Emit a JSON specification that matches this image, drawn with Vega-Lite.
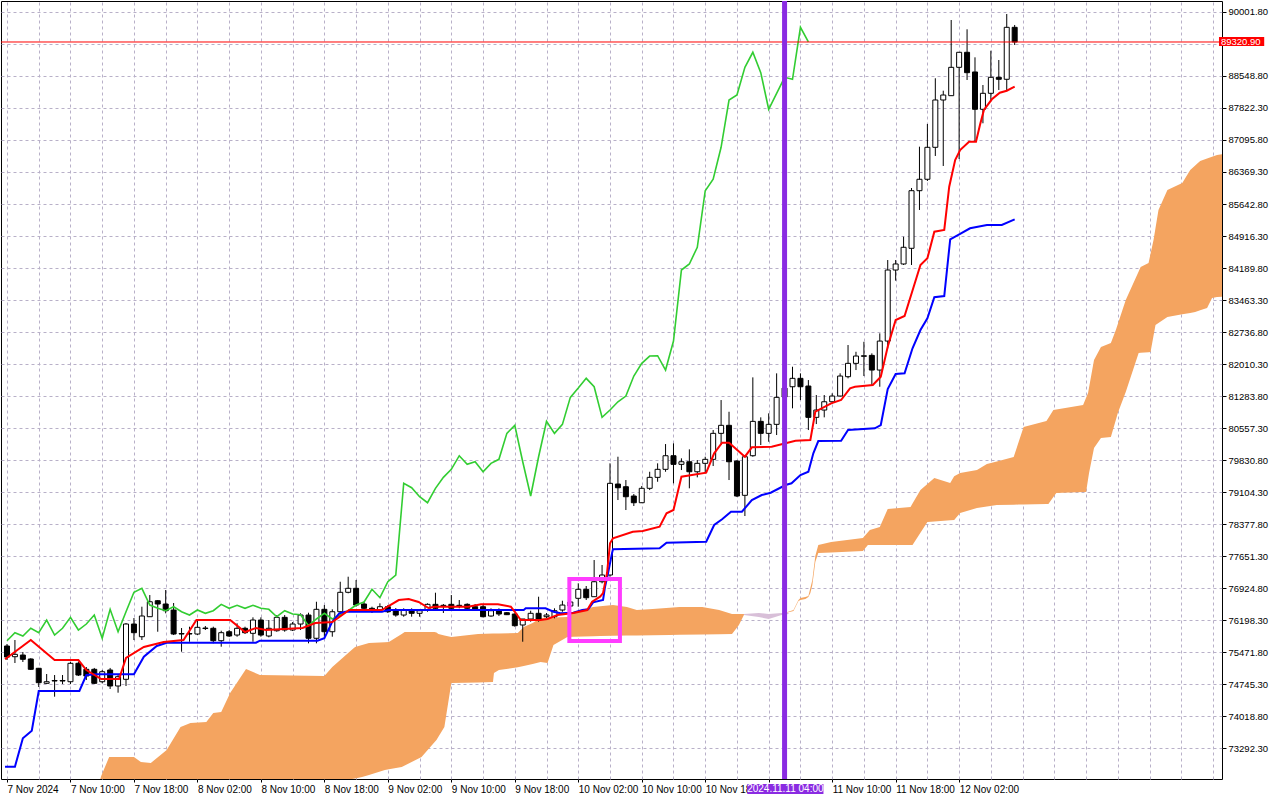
{
  "$schema": "https://vega.github.io/schema/vega-lite/v6.json",
  "width": 1221,
  "height": 778,
  "autosize": {"type": "none"},
  "padding": {"left": 1, "top": 1, "right": 58, "bottom": 21},
  "background": "white",
  "config": {
    "view": {"stroke": "black", "strokeWidth": 1},
    "axis": {"labelFont": "Liberation Sans", "labelColor": "black", "tickColor": "black", "domain": false}
  },
  "datasets": {
    "candles": [
      {"bar": 0, "open": 75608, "high": 75653, "low": 75290, "close": 75358},
      {"bar": 1, "open": 75365, "high": 75744, "low": 75222, "close": 75419},
      {"bar": 2, "open": 75403, "high": 75472, "low": 75245, "close": 75306},
      {"bar": 3, "open": 75313, "high": 75330, "low": 75063, "close": 75079},
      {"bar": 4, "open": 75102, "high": 75110, "low": 74677, "close": 74775},
      {"bar": 5, "open": 74761, "high": 74972, "low": 74745, "close": 74797},
      {"bar": 6, "open": 74813, "high": 74949, "low": 74457, "close": 74825},
      {"bar": 7, "open": 74813, "high": 74949, "low": 74745, "close": 74825},
      {"bar": 8, "open": 74797, "high": 75251, "low": 74745, "close": 75215},
      {"bar": 9, "open": 75215, "high": 75251, "low": 74927, "close": 74949},
      {"bar": 10, "open": 75079, "high": 75131, "low": 74836, "close": 74927},
      {"bar": 11, "open": 75079, "high": 75110, "low": 74745, "close": 74761},
      {"bar": 12, "open": 74797, "high": 75063, "low": 74761, "close": 75024},
      {"bar": 13, "open": 75063, "high": 75110, "low": 74632, "close": 74700},
      {"bar": 14, "open": 74700, "high": 74949, "low": 74548, "close": 74911},
      {"bar": 15, "open": 74852, "high": 76130, "low": 74700, "close": 76107},
      {"bar": 16, "open": 76107, "high": 76243, "low": 75744, "close": 75910},
      {"bar": 17, "open": 75819, "high": 76500, "low": 75744, "close": 76289},
      {"bar": 18, "open": 76273, "high": 76765, "low": 76273, "close": 76613},
      {"bar": 19, "open": 76636, "high": 76652, "low": 75932, "close": 76561},
      {"bar": 20, "open": 76561, "high": 76879, "low": 76350, "close": 76409},
      {"bar": 21, "open": 76425, "high": 76584, "low": 75857, "close": 75880},
      {"bar": 22, "open": 75880, "high": 76016, "low": 75478, "close": 75891},
      {"bar": 23, "open": 75880, "high": 76046, "low": 75705, "close": 75891},
      {"bar": 24, "open": 75880, "high": 76198, "low": 75857, "close": 76032},
      {"bar": 25, "open": 76005, "high": 76062, "low": 75971, "close": 76016},
      {"bar": 26, "open": 76010, "high": 76046, "low": 75669, "close": 75728},
      {"bar": 27, "open": 75728, "high": 75955, "low": 75592, "close": 75910},
      {"bar": 28, "open": 75932, "high": 75971, "low": 75812, "close": 75835},
      {"bar": 29, "open": 75857, "high": 76123, "low": 75819, "close": 76010},
      {"bar": 30, "open": 76010, "high": 76046, "low": 75880, "close": 75910},
      {"bar": 31, "open": 75896, "high": 76259, "low": 75705, "close": 76198},
      {"bar": 32, "open": 76198, "high": 76259, "low": 75819, "close": 75857},
      {"bar": 33, "open": 75835, "high": 76198, "low": 75805, "close": 76010},
      {"bar": 34, "open": 75955, "high": 76311, "low": 75932, "close": 76259},
      {"bar": 35, "open": 76259, "high": 76311, "low": 75932, "close": 75971},
      {"bar": 36, "open": 75971, "high": 76153, "low": 75948, "close": 76107},
      {"bar": 37, "open": 76107, "high": 76350, "low": 75971, "close": 76311},
      {"bar": 38, "open": 76311, "high": 76364, "low": 75669, "close": 75783},
      {"bar": 39, "open": 75783, "high": 76613, "low": 75669, "close": 76441},
      {"bar": 40, "open": 76441, "high": 76538, "low": 75819, "close": 75932},
      {"bar": 41, "open": 75932, "high": 76441, "low": 75819, "close": 76386},
      {"bar": 42, "open": 76386, "high": 77067, "low": 76311, "close": 76827},
      {"bar": 43, "open": 76827, "high": 77181, "low": 76804, "close": 76918},
      {"bar": 44, "open": 76918, "high": 77106, "low": 76500, "close": 76538},
      {"bar": 45, "open": 76561, "high": 76613, "low": 76425, "close": 76464},
      {"bar": 46, "open": 76464, "high": 76500, "low": 76357, "close": 76409},
      {"bar": 47, "open": 76425, "high": 76577, "low": 76386, "close": 76500},
      {"bar": 48, "open": 76500, "high": 76538, "low": 76357, "close": 76386},
      {"bar": 49, "open": 76425, "high": 76470, "low": 76273, "close": 76311},
      {"bar": 50, "open": 76311, "high": 76464, "low": 76273, "close": 76425},
      {"bar": 51, "open": 76425, "high": 76464, "low": 76273, "close": 76350},
      {"bar": 52, "open": 76350, "high": 76425, "low": 76273, "close": 76409},
      {"bar": 53, "open": 76425, "high": 76577, "low": 76386, "close": 76554},
      {"bar": 54, "open": 76554, "high": 76818, "low": 76425, "close": 76464},
      {"bar": 55, "open": 76523, "high": 76561, "low": 76357, "close": 76532},
      {"bar": 56, "open": 76554, "high": 76765, "low": 76425, "close": 76464},
      {"bar": 57, "open": 76523, "high": 76652, "low": 76464, "close": 76532},
      {"bar": 58, "open": 76554, "high": 76577, "low": 76425, "close": 76464},
      {"bar": 59, "open": 76500, "high": 76561, "low": 76409, "close": 76441},
      {"bar": 60, "open": 76500, "high": 76538, "low": 76259, "close": 76273},
      {"bar": 61, "open": 76289, "high": 76464, "low": 76273, "close": 76409},
      {"bar": 62, "open": 76409, "high": 76464, "low": 76289, "close": 76334},
      {"bar": 63, "open": 76364, "high": 76380, "low": 76311, "close": 76319},
      {"bar": 64, "open": 76334, "high": 76350, "low": 76046, "close": 76069},
      {"bar": 65, "open": 76085, "high": 76221, "low": 75705, "close": 76221},
      {"bar": 66, "open": 76221, "high": 76409, "low": 76160, "close": 76350},
      {"bar": 67, "open": 76350, "high": 76727, "low": 76160, "close": 76221},
      {"bar": 68, "open": 76273, "high": 76357, "low": 76243, "close": 76311},
      {"bar": 69, "open": 76273, "high": 76464, "low": 76236, "close": 76409},
      {"bar": 70, "open": 76425, "high": 76636, "low": 76386, "close": 76538},
      {"bar": 71, "open": 76516, "high": 76697, "low": 76448, "close": 76607},
      {"bar": 72, "open": 76691, "high": 77031, "low": 76500, "close": 76895},
      {"bar": 73, "open": 76895, "high": 76970, "low": 76652, "close": 76704},
      {"bar": 74, "open": 76727, "high": 77560, "low": 76727, "close": 77067},
      {"bar": 75, "open": 77067, "high": 77447, "low": 77031, "close": 77220},
      {"bar": 76, "open": 77220, "high": 79755, "low": 77181, "close": 79301},
      {"bar": 77, "open": 79285, "high": 79905, "low": 78922, "close": 79201},
      {"bar": 78, "open": 79224, "high": 79376, "low": 78695, "close": 78997},
      {"bar": 79, "open": 79013, "high": 79058, "low": 78786, "close": 78861},
      {"bar": 80, "open": 78861, "high": 79240, "low": 78854, "close": 79188},
      {"bar": 81, "open": 79188, "high": 79564, "low": 79149, "close": 79437},
      {"bar": 82, "open": 79437, "high": 79755, "low": 79337, "close": 79619},
      {"bar": 83, "open": 79619, "high": 80193, "low": 79564, "close": 79928},
      {"bar": 84, "open": 79928, "high": 80209, "low": 79301, "close": 79732},
      {"bar": 85, "open": 79732, "high": 79869, "low": 79603, "close": 79791},
      {"bar": 86, "open": 79791, "high": 80073, "low": 79188, "close": 79564},
      {"bar": 87, "open": 79564, "high": 79830, "low": 79437, "close": 79755},
      {"bar": 88, "open": 79755, "high": 79905, "low": 79528, "close": 79846},
      {"bar": 89, "open": 79846, "high": 80511, "low": 79694, "close": 80436},
      {"bar": 90, "open": 80436, "high": 81192, "low": 80171, "close": 80618},
      {"bar": 91, "open": 80618, "high": 80926, "low": 79376, "close": 79791},
      {"bar": 92, "open": 79807, "high": 79830, "low": 78990, "close": 79013},
      {"bar": 93, "open": 79029, "high": 79943, "low": 78559, "close": 79905},
      {"bar": 94, "open": 79928, "high": 81707, "low": 79905, "close": 80708},
      {"bar": 95, "open": 80708, "high": 80799, "low": 80171, "close": 80436},
      {"bar": 96, "open": 80436, "high": 80890, "low": 80245, "close": 80640},
      {"bar": 97, "open": 80640, "high": 81798, "low": 80398, "close": 81253},
      {"bar": 98, "open": 81260, "high": 81873, "low": 81147, "close": 81464},
      {"bar": 99, "open": 81494, "high": 81948, "low": 81004, "close": 81685},
      {"bar": 100, "open": 81685, "high": 81798, "low": 81192, "close": 81494},
      {"bar": 101, "open": 81510, "high": 81646, "low": 80511, "close": 80799},
      {"bar": 102, "open": 80799, "high": 81306, "low": 80647, "close": 80965},
      {"bar": 103, "open": 80965, "high": 81306, "low": 80799, "close": 81153},
      {"bar": 104, "open": 81153, "high": 81344, "low": 81116, "close": 81283},
      {"bar": 105, "open": 81283, "high": 81798, "low": 81268, "close": 81737},
      {"bar": 106, "open": 81722, "high": 82441, "low": 81685, "close": 82025},
      {"bar": 107, "open": 82025, "high": 82288, "low": 81873, "close": 82191},
      {"bar": 108, "open": 82184, "high": 82515, "low": 81737, "close": 82198},
      {"bar": 109, "open": 82206, "high": 82252, "low": 81532, "close": 81873},
      {"bar": 110, "open": 81873, "high": 82706, "low": 81494, "close": 82531},
      {"bar": 111, "open": 82531, "high": 84371, "low": 82366, "close": 84144},
      {"bar": 112, "open": 84144, "high": 84371, "low": 83902, "close": 84281},
      {"bar": 113, "open": 84281, "high": 84900, "low": 84258, "close": 84660},
      {"bar": 114, "open": 84637, "high": 86006, "low": 84258, "close": 85945},
      {"bar": 115, "open": 85945, "high": 86944, "low": 85507, "close": 86204},
      {"bar": 116, "open": 86204, "high": 87459, "low": 86165, "close": 86930},
      {"bar": 117, "open": 86930, "high": 88497, "low": 86733, "close": 88004},
      {"bar": 118, "open": 88004, "high": 88215, "low": 86506, "close": 88117},
      {"bar": 119, "open": 88102, "high": 89820, "low": 88102, "close": 88746},
      {"bar": 120, "open": 88746, "high": 89094, "low": 86664, "close": 89087},
      {"bar": 121, "open": 89087, "high": 89609, "low": 88458, "close": 88624},
      {"bar": 122, "open": 88640, "high": 88973, "low": 87057, "close": 87793},
      {"bar": 123, "open": 87793, "high": 88344, "low": 87475, "close": 88156},
      {"bar": 124, "open": 88156, "high": 89123, "low": 88004, "close": 88519},
      {"bar": 125, "open": 88519, "high": 88912, "low": 88231, "close": 88474},
      {"bar": 126, "open": 88474, "high": 89956, "low": 88231, "close": 89654},
      {"bar": 127, "open": 89654, "high": 89707, "low": 89253, "close": 89321}
    ],
    "tenkan": [
      {"bar": -0.25, "value": 75306}, {"bar": 3, "value": 75744}, {"bar": 6, "value": 75290}, {"bar": 9, "value": 75290},
      {"bar": 10, "value": 75063}, {"bar": 11.875, "value": 74859}, {"bar": 14.125, "value": 74859}, {"bar": 15, "value": 75336},
      {"bar": 17.25, "value": 75585}, {"bar": 19.75, "value": 75699}, {"bar": 22.25, "value": 75744}, {"bar": 23.875, "value": 76198},
      {"bar": 28.125, "value": 76198}, {"bar": 30, "value": 75926}, {"bar": 31.375, "value": 76017}, {"bar": 32.625, "value": 75971},
      {"bar": 37.25, "value": 76017}, {"bar": 38.875, "value": 76130}, {"bar": 41, "value": 76153}, {"bar": 43.125, "value": 76425},
      {"bar": 47.25, "value": 76425}, {"bar": 49.375, "value": 76652}, {"bar": 50.625, "value": 76675}, {"bar": 51.875, "value": 76607},
      {"bar": 53.125, "value": 76471}, {"bar": 53.875, "value": 76500}, {"bar": 58.125, "value": 76500}, {"bar": 59.75, "value": 76555},
      {"bar": 61.875, "value": 76555}, {"bar": 63.5, "value": 76500}, {"bar": 64.125, "value": 76357}, {"bar": 64.75, "value": 76198},
      {"bar": 67.25, "value": 76198}, {"bar": 68.125, "value": 76221}, {"bar": 69.375, "value": 76312}, {"bar": 71.375, "value": 76357},
      {"bar": 73.125, "value": 76425}, {"bar": 73.75, "value": 76614}, {"bar": 74.75, "value": 76727}, {"bar": 75.125, "value": 76811},
      {"bar": 75.625, "value": 77265}, {"bar": 76, "value": 77940}, {"bar": 76.375, "value": 78053}, {"bar": 78.875, "value": 78203},
      {"bar": 80.125, "value": 78219}, {"bar": 82.25, "value": 78317}, {"bar": 83.125, "value": 78621}, {"bar": 84, "value": 78696},
      {"bar": 85, "value": 79452}, {"bar": 88.125, "value": 79543}, {"bar": 89.125, "value": 79983}, {"bar": 90.125, "value": 80224},
      {"bar": 91, "value": 80224}, {"bar": 93, "value": 79906}, {"bar": 93.875, "value": 80119}, {"bar": 96.375, "value": 80133},
      {"bar": 98.125, "value": 80210}, {"bar": 99.375, "value": 80269}, {"bar": 101.25, "value": 80285}, {"bar": 101.875, "value": 80927},
      {"bar": 103.875, "value": 81118}, {"bar": 105.125, "value": 81193}, {"bar": 106.25, "value": 81459}, {"bar": 106.875, "value": 81495},
      {"bar": 109.125, "value": 81534}, {"bar": 110.125, "value": 81722}, {"bar": 111, "value": 82403}, {"bar": 112, "value": 83009},
      {"bar": 113.125, "value": 83100}, {"bar": 115.125, "value": 84258}, {"bar": 116, "value": 84410}, {"bar": 116.875, "value": 85014},
      {"bar": 118.125, "value": 85053}, {"bar": 118.75, "value": 86036}, {"bar": 119.5, "value": 86642}, {"bar": 120.125, "value": 86869},
      {"bar": 121.25, "value": 87057}, {"bar": 122.125, "value": 87057}, {"bar": 122.625, "value": 87436}, {"bar": 123.125, "value": 87777},
      {"bar": 124.125, "value": 88020}, {"bar": 125.125, "value": 88170}, {"bar": 126, "value": 88215}, {"bar": 127, "value": 88306}
    ],
    "kijun": [
      {"bar": -0.25, "value": 72868}, {"bar": 1, "value": 72868}, {"bar": 2, "value": 73513}, {"bar": 3.125, "value": 73685},
      {"bar": 4, "value": 74586}, {"bar": 9.125, "value": 74586}, {"bar": 10, "value": 74950}, {"bar": 11.25, "value": 74966},
      {"bar": 16, "value": 74966}, {"bar": 17.25, "value": 75365}, {"bar": 18.875, "value": 75608}, {"bar": 20.125, "value": 75683},
      {"bar": 31.375, "value": 75683}, {"bar": 31.875, "value": 75728}, {"bar": 39.125, "value": 75728}, {"bar": 40, "value": 75783},
      {"bar": 41, "value": 76160}, {"bar": 41.875, "value": 76351}, {"bar": 42.625, "value": 76387}, {"bar": 47.25, "value": 76387},
      {"bar": 48.125, "value": 76425}, {"bar": 65.125, "value": 76425}, {"bar": 65.375, "value": 76464}, {"bar": 67.875, "value": 76464},
      {"bar": 68.875, "value": 76387}, {"bar": 69.75, "value": 76351}, {"bar": 71.375, "value": 76364}, {"bar": 72.5, "value": 76425},
      {"bar": 73.25, "value": 76441}, {"bar": 73.875, "value": 76600}, {"bar": 75.125, "value": 76652}, {"bar": 75.375, "value": 76954},
      {"bar": 75.75, "value": 77259}, {"bar": 76.25, "value": 77713}, {"bar": 76.375, "value": 77803}, {"bar": 82.25, "value": 77826},
      {"bar": 83.125, "value": 77953}, {"bar": 88.125, "value": 77976}, {"bar": 89.125, "value": 78355}, {"bar": 90.125, "value": 78485},
      {"bar": 91.25, "value": 78657}, {"bar": 92.625, "value": 78657}, {"bar": 93.875, "value": 78923}, {"bar": 95.125, "value": 79036},
      {"bar": 96.25, "value": 79088}, {"bar": 98.125, "value": 79263}, {"bar": 98.875, "value": 79302}, {"bar": 100, "value": 79490},
      {"bar": 101, "value": 79565}, {"bar": 101.625, "value": 79983}, {"bar": 102.25, "value": 80262}, {"bar": 105.125, "value": 80269},
      {"bar": 106, "value": 80512}, {"bar": 109.375, "value": 80551}, {"bar": 110.125, "value": 80625}, {"bar": 111, "value": 81443},
      {"bar": 112, "value": 81783}, {"bar": 113.125, "value": 81799}, {"bar": 114.125, "value": 82367}, {"bar": 115.125, "value": 82782},
      {"bar": 116, "value": 83048}, {"bar": 116.875, "value": 83525}, {"bar": 118.125, "value": 83554}, {"bar": 118.875, "value": 84841},
      {"bar": 120.125, "value": 84962}, {"bar": 121.375, "value": 85091}, {"bar": 123.5, "value": 85166}, {"bar": 125.375, "value": 85166},
      {"bar": 127, "value": 85295}
    ],
    "chikou": [
      {"bar": 0, "value": 75728}, {"bar": 1, "value": 75910}, {"bar": 2, "value": 75835}, {"bar": 3, "value": 76010},
      {"bar": 4, "value": 75910}, {"bar": 5, "value": 76198}, {"bar": 6, "value": 75857}, {"bar": 7, "value": 76010},
      {"bar": 8, "value": 76259}, {"bar": 9, "value": 75971}, {"bar": 10, "value": 76107}, {"bar": 11, "value": 76311},
      {"bar": 12, "value": 75783}, {"bar": 13, "value": 76441}, {"bar": 14, "value": 75932}, {"bar": 15, "value": 76386},
      {"bar": 16, "value": 76827}, {"bar": 17, "value": 76918}, {"bar": 18, "value": 76538}, {"bar": 19, "value": 76464},
      {"bar": 20, "value": 76409}, {"bar": 21, "value": 76500}, {"bar": 22, "value": 76386}, {"bar": 23, "value": 76311},
      {"bar": 24, "value": 76425}, {"bar": 25, "value": 76350}, {"bar": 26, "value": 76409}, {"bar": 27, "value": 76554},
      {"bar": 28, "value": 76464}, {"bar": 29, "value": 76532}, {"bar": 30, "value": 76464}, {"bar": 31, "value": 76532},
      {"bar": 32, "value": 76464}, {"bar": 33, "value": 76441}, {"bar": 34, "value": 76273}, {"bar": 35, "value": 76409},
      {"bar": 36, "value": 76334}, {"bar": 37, "value": 76319}, {"bar": 38, "value": 76069}, {"bar": 39, "value": 76221},
      {"bar": 40, "value": 76350}, {"bar": 41, "value": 76221}, {"bar": 42, "value": 76311}, {"bar": 43, "value": 76409},
      {"bar": 44, "value": 76538}, {"bar": 45, "value": 76607}, {"bar": 46, "value": 76895}, {"bar": 47, "value": 76704},
      {"bar": 48, "value": 77067}, {"bar": 49, "value": 77220}, {"bar": 50, "value": 79301}, {"bar": 51, "value": 79201},
      {"bar": 52, "value": 78997}, {"bar": 53, "value": 78861}, {"bar": 54, "value": 79188}, {"bar": 55, "value": 79437},
      {"bar": 56, "value": 79619}, {"bar": 57, "value": 79928}, {"bar": 58, "value": 79732}, {"bar": 59, "value": 79791},
      {"bar": 60, "value": 79564}, {"bar": 61, "value": 79755}, {"bar": 62, "value": 79846}, {"bar": 63, "value": 80436},
      {"bar": 64, "value": 80618}, {"bar": 65, "value": 79791}, {"bar": 66, "value": 79013}, {"bar": 67, "value": 79905},
      {"bar": 68, "value": 80708}, {"bar": 69, "value": 80436}, {"bar": 70, "value": 80640}, {"bar": 71, "value": 81253},
      {"bar": 72, "value": 81464}, {"bar": 73, "value": 81685}, {"bar": 74, "value": 81494}, {"bar": 75, "value": 80799},
      {"bar": 76, "value": 80965}, {"bar": 77, "value": 81153}, {"bar": 78, "value": 81283}, {"bar": 79, "value": 81737},
      {"bar": 80, "value": 82025}, {"bar": 81, "value": 82191}, {"bar": 82, "value": 82198}, {"bar": 83, "value": 81873},
      {"bar": 84, "value": 82531}, {"bar": 85, "value": 84144}, {"bar": 86, "value": 84281}, {"bar": 87, "value": 84660},
      {"bar": 88, "value": 85945}, {"bar": 89, "value": 86204}, {"bar": 90, "value": 86930}, {"bar": 91, "value": 88004},
      {"bar": 92, "value": 88117}, {"bar": 93, "value": 88746}, {"bar": 94, "value": 89087}, {"bar": 95, "value": 88624},
      {"bar": 96, "value": 87793}, {"bar": 97, "value": 88156}, {"bar": 98, "value": 88519}, {"bar": 99, "value": 88474},
      {"bar": 100, "value": 89654}, {"bar": 101, "value": 89321}
    ],
    "cloud": [
      {"bar": 11, "top": 72112, "bottom": 71885}, {"bar": 11.875, "top": 72657, "bottom": 71885},
      {"bar": 12.875, "top": 73088, "bottom": 71885}, {"bar": 16, "top": 73088, "bottom": 71885},
      {"bar": 16.875, "top": 72975, "bottom": 71885}, {"bar": 18.125, "top": 72952, "bottom": 71885},
      {"bar": 20.125, "top": 73247, "bottom": 71885}, {"bar": 21.875, "top": 73769, "bottom": 71885},
      {"bar": 23.125, "top": 73860, "bottom": 71885}, {"bar": 25.125, "top": 73883, "bottom": 71885},
      {"bar": 26, "top": 74087, "bottom": 71885}, {"bar": 27, "top": 74110, "bottom": 71885},
      {"bar": 28.125, "top": 74541, "bottom": 71885}, {"bar": 29.375, "top": 74882, "bottom": 71885},
      {"bar": 30.125, "top": 75086, "bottom": 71885}, {"bar": 31.875, "top": 74950, "bottom": 71885},
      {"bar": 40, "top": 74927, "bottom": 71885}, {"bar": 41, "top": 75131, "bottom": 71885},
      {"bar": 42.25, "top": 75329, "bottom": 72112}, {"bar": 43.5, "top": 75526, "bottom": 72589},
      {"bar": 43.875, "top": 75585, "bottom": 72602}, {"bar": 44.75, "top": 75631, "bottom": 72634},
      {"bar": 45.625, "top": 75676, "bottom": 72682}, {"bar": 47.625, "top": 75694, "bottom": 72793},
      {"bar": 48.125, "top": 75699, "bottom": 72809}, {"bar": 49.75, "top": 75883, "bottom": 72861},
      {"bar": 50.125, "top": 75926, "bottom": 72895}, {"bar": 52.25, "top": 75926, "bottom": 73088},
      {"bar": 53.875, "top": 75926, "bottom": 73422}, {"bar": 54.125, "top": 75915, "bottom": 73474},
      {"bar": 54.375, "top": 75881, "bottom": 73547}, {"bar": 55.125, "top": 75849, "bottom": 73769},
      {"bar": 56, "top": 75812, "bottom": 74768}, {"bar": 59.375, "top": 75881, "bottom": 74782},
      {"bar": 61.25, "top": 75890, "bottom": 74791}, {"bar": 61.375, "top": 75890, "bottom": 74995},
      {"bar": 62, "top": 75892, "bottom": 75063}, {"bar": 64.375, "top": 75903, "bottom": 75125},
      {"bar": 65.125, "top": 76039, "bottom": 75156}, {"bar": 66.25, "top": 76130, "bottom": 75202},
      {"bar": 67.25, "top": 76244, "bottom": 75243}, {"bar": 68.125, "top": 76251, "bottom": 75222},
      {"bar": 68.875, "top": 76255, "bottom": 75631}, {"bar": 70.625, "top": 76266, "bottom": 75812},
      {"bar": 71.375, "top": 76380, "bottom": 75817}, {"bar": 73.875, "top": 76494, "bottom": 75831},
      {"bar": 74.75, "top": 76509, "bottom": 75835}, {"bar": 76.375, "top": 76539, "bottom": 75840},
      {"bar": 78.125, "top": 76494, "bottom": 75844}, {"bar": 79.375, "top": 76425, "bottom": 75849},
      {"bar": 81.375, "top": 76448, "bottom": 75853}, {"bar": 83.5, "top": 76478, "bottom": 75858},
      {"bar": 84.75, "top": 76494, "bottom": 75862}, {"bar": 87.625, "top": 76494, "bottom": 75869},
      {"bar": 89.75, "top": 76425, "bottom": 75876}, {"bar": 91.375, "top": 76335, "bottom": 75881},
      {"bar": 92.25, "top": 76335, "bottom": 76085}, {"bar": 92.875, "top": 76335, "bottom": 76312},
      {"bar": 97.625, "top": 76335, "bottom": 76335}, {"bar": 99.125, "top": 76425, "bottom": 76402},
      {"bar": 99.75, "top": 76652, "bottom": 76630}, {"bar": 100, "top": 76698, "bottom": 76652},
      {"bar": 100.625, "top": 76721, "bottom": 76675}, {"bar": 101, "top": 76743, "bottom": 76721},
      {"bar": 101.25, "top": 76925, "bottom": 76811}, {"bar": 101.5, "top": 77107, "bottom": 76993},
      {"bar": 101.875, "top": 77651, "bottom": 77515}, {"bar": 102.25, "top": 77901, "bottom": 77719},
      {"bar": 103.875, "top": 77969, "bottom": 77733}, {"bar": 107.875, "top": 78060, "bottom": 77765},
      {"bar": 108.5, "top": 78189, "bottom": 77901}, {"bar": 108.75, "top": 78242, "bottom": 77901},
      {"bar": 110, "top": 78310, "bottom": 77901}, {"bar": 111, "top": 78718, "bottom": 77901},
      {"bar": 113.875, "top": 78764, "bottom": 77901}, {"bar": 114.125, "top": 78841, "bottom": 77901},
      {"bar": 115.125, "top": 79150, "bottom": 78180}, {"bar": 116, "top": 79286, "bottom": 78423},
      {"bar": 116.875, "top": 79422, "bottom": 78435}, {"bar": 118.875, "top": 79309, "bottom": 78462},
      {"bar": 119.375, "top": 79461, "bottom": 78469}, {"bar": 120.125, "top": 79536, "bottom": 78628},
      {"bar": 122.25, "top": 79604, "bottom": 78741}, {"bar": 123.5, "top": 79740, "bottom": 78775},
      {"bar": 124.75, "top": 79799, "bottom": 78809}, {"bar": 126.875, "top": 79899, "bottom": 78816},
      {"bar": 127.5, "top": 80240, "bottom": 78818}, {"bar": 128.125, "top": 80580, "bottom": 78821},
      {"bar": 131, "top": 80716, "bottom": 78832}, {"bar": 131.25, "top": 80787, "bottom": 78832},
      {"bar": 131.875, "top": 80966, "bottom": 78989}, {"bar": 132.25, "top": 80977, "bottom": 79082},
      {"bar": 135.625, "top": 81080, "bottom": 79102}, {"bar": 136, "top": 81243, "bottom": 79104},
      {"bar": 136.25, "top": 81352, "bottom": 79393}, {"bar": 136.375, "top": 81477, "bottom": 79536},
      {"bar": 137, "top": 82101, "bottom": 80103}, {"bar": 137.875, "top": 82396, "bottom": 80330},
      {"bar": 139.125, "top": 82487, "bottom": 80353}, {"bar": 139.75, "top": 82782, "bottom": 80741},
      {"bar": 140, "top": 82918, "bottom": 80898}, {"bar": 141, "top": 83463, "bottom": 81375},
      {"bar": 142.625, "top": 84113, "bottom": 82260}, {"bar": 142.875, "top": 84213, "bottom": 82265},
      {"bar": 143.875, "top": 84303, "bottom": 82278}, {"bar": 144.125, "top": 84512, "bottom": 82283},
      {"bar": 144.5, "top": 84826, "bottom": 82651}, {"bar": 144.75, "top": 85098, "bottom": 82896},
      {"bar": 145.125, "top": 85507, "bottom": 82941}, {"bar": 146.25, "top": 85961, "bottom": 83077},
      {"bar": 148.125, "top": 86120, "bottom": 83139}, {"bar": 149.125, "top": 86415, "bottom": 83171},
      {"bar": 149.75, "top": 86517, "bottom": 83191}, {"bar": 150.375, "top": 86619, "bottom": 83230},
      {"bar": 151.25, "top": 86676, "bottom": 83282}, {"bar": 151.875, "top": 86714, "bottom": 83509},
      {"bar": 152.5, "top": 86755, "bottom": 83531}, {"bar": 153.5, "top": 86780, "bottom": 83540}
    ],
    "twist": [
      {"bar": 92.875, "top": 76335, "bottom": 76312}, {"bar": 94.75, "top": 76357, "bottom": 76266},
      {"bar": 96, "top": 76335, "bottom": 76221}, {"bar": 97.625, "top": 76357, "bottom": 76312},
      {"bar": 98.5, "top": 76357, "bottom": 76335}
    ],
    "box": [{"left": 70.875, "right": 77.25, "top": 77129, "bottom": 75722}],
    "priceTag": [{"left": 152.75, "right": 158.45, "top": 89434, "bottom": 89230, "label": "89320.90", "at": 153.0, "price": 89320.9}],
    "timeTag": [{"left": 93.3, "right": 102.9, "top": 72475, "bottom": 72248, "label": "2024.11.11 04:00", "at": 98.1, "mid": 72358, "bar": 98}]
  },
  "resolve": {"axis": {"x": "independent", "y": "independent"}},
  "layer": [
    {
      "data": {"name": "cloud"},
      "mark": {"type": "area", "color": "#f4a460", "opacity": 1, "clip": true},
      "encoding": {
        "x": {"field": "bar", "type": "quantitative", "scale": {"domain": [-0.125, 152.5], "nice": false, "zero": false},
          "axis": {"orient": "top", "values": [0,4,8,12,16,20,24,28,32,36,40,44,48,52,56,60,64,68,72,76,80,84,88,92,96,100,104,108,112,116,120,124,128,132,136,140,144,148,152],
            "labels": false, "ticks": false, "domain": false, "title": null, "grid": true, "gridColor": "#b8b0c8", "gridDash": [3, 3], "gridWidth": 1}},
        "y": {"field": "top", "type": "quantitative", "scale": {"domain": [72588.6, 90251.5], "nice": false, "zero": false},
          "axis": {"orient": "right", "title": null,
            "values": [73292.3,74018.8,74745.3,75471.8,76198.3,76924.8,77651.3,78377.8,79104.3,79830.8,80557.3,81283.8,82010.3,82736.8,83463.3,84189.8,84916.3,85642.8,86369.3,87095.8,87822.3,88548.8,89275.3,90001.8],
            "labelExpr": "datum.value > 89000 && datum.value < 89500 ? '' : format(datum.value, '.2f')",
            "labelFontSize": 9.5, "labelPadding": 2, "tickSize": 4, "labelOverlap": false, "labelFlush": false,
            "grid": true, "gridColor": "#b8b0c8", "gridDash": [3, 3], "gridWidth": 1}},
        "y2": {"field": "bottom"}
      }
    },
    {
      "data": {"name": "twist"},
      "mark": {"type": "area", "color": "#d8bfd8", "clip": true},
      "encoding": {
        "x": {"field": "bar", "type": "quantitative",
          "axis": {"orient": "bottom", "values": [0,8,16,24,32,40,48,56,64,72,80,88,96,104,112,120], "title": null, "grid": false, "domain": false,
            "labelAlign": "left", "labelFontSize": 10, "labelPadding": 2, "tickSize": 3, "labelOverlap": false, "labelFlush": false,
            "labelExpr": "datum.value == 0 ? '7 Nov 2024' : datum.value == 96 ? '' : (7 + floor((datum.value + 2) / 24)) + ' Nov ' + (((datum.value + 2) % 24) < 10 ? '0' : '') + ((datum.value + 2) % 24) + ':00'"}},
        "y": {"field": "top", "type": "quantitative", "axis": null},
        "y2": {"field": "bottom"}
      }
    },
    {
      "data": {"name": "candles"},
      "mark": {"type": "rule", "color": "black", "strokeWidth": 1, "clip": true},
      "encoding": {
        "x": {"field": "bar", "type": "quantitative", "axis": null},
        "y": {"field": "low", "type": "quantitative", "axis": null},
        "y2": {"field": "high"}
      }
    },
    {
      "data": {"name": "candles"},
      "mark": {"type": "bar", "size": 5, "stroke": "black", "strokeWidth": 1, "clip": true},
      "encoding": {
        "x": {"field": "bar", "type": "quantitative", "axis": null},
        "y": {"field": "open", "type": "quantitative", "axis": null},
        "y2": {"field": "close"},
        "fill": {"condition": {"test": "datum.close < datum.open", "value": "black"}, "value": "white"}
      }
    },
    {
      "data": {"name": "chikou"},
      "mark": {"type": "line", "color": "#32cd32", "strokeWidth": 1.6, "clip": true},
      "encoding": {
        "x": {"field": "bar", "type": "quantitative", "axis": null},
        "y": {"field": "value", "type": "quantitative", "axis": null}
      }
    },
    {
      "data": {"name": "kijun"},
      "mark": {"type": "line", "color": "#0000ff", "strokeWidth": 2, "clip": true},
      "encoding": {
        "x": {"field": "bar", "type": "quantitative", "axis": null},
        "y": {"field": "value", "type": "quantitative", "axis": null}
      }
    },
    {
      "data": {"name": "tenkan"},
      "mark": {"type": "line", "color": "#ff0000", "strokeWidth": 2, "clip": true},
      "encoding": {
        "x": {"field": "bar", "type": "quantitative", "axis": null},
        "y": {"field": "value", "type": "quantitative", "axis": null}
      }
    },
    {
      "data": {"name": "priceTag"},
      "mark": {"type": "rule", "color": "#ff0000", "strokeWidth": 1},
      "encoding": {
        "y": {"field": "price", "type": "quantitative", "axis": null}
      }
    },
    {
      "data": {"name": "timeTag"},
      "mark": {"type": "rule", "color": "#8a2be2", "strokeWidth": 5},
      "encoding": {
        "x": {"field": "bar", "type": "quantitative", "axis": null}
      }
    },
    {
      "data": {"name": "box"},
      "mark": {"type": "rect", "filled": false, "stroke": "#ff3cff", "strokeWidth": 4},
      "encoding": {
        "x": {"field": "left", "type": "quantitative", "axis": null},
        "x2": {"field": "right"},
        "y": {"field": "top", "type": "quantitative", "axis": null},
        "y2": {"field": "bottom"}
      }
    },
    {
      "data": {"name": "priceTag"},
      "mark": {"type": "rect", "color": "#ff0000", "clip": false},
      "encoding": {
        "x": {"field": "left", "type": "quantitative", "axis": null},
        "x2": {"field": "right"},
        "y": {"field": "top", "type": "quantitative", "axis": null},
        "y2": {"field": "bottom"}
      }
    },
    {
      "data": {"name": "priceTag"},
      "mark": {"type": "text", "color": "white", "font": "Liberation Sans", "fontSize": 9.5, "align": "left", "baseline": "middle", "clip": false},
      "encoding": {
        "x": {"field": "at", "type": "quantitative", "axis": null},
        "y": {"field": "price", "type": "quantitative", "axis": null},
        "text": {"field": "label"}
      }
    },
    {
      "data": {"name": "timeTag"},
      "mark": {"type": "rect", "color": "#8a2be2", "clip": false},
      "encoding": {
        "x": {"field": "left", "type": "quantitative", "axis": null},
        "x2": {"field": "right"},
        "y": {"field": "top", "type": "quantitative", "axis": null},
        "y2": {"field": "bottom"}
      }
    },
    {
      "data": {"name": "timeTag"},
      "mark": {"type": "text", "color": "white", "font": "Liberation Sans", "fontSize": 10, "align": "center", "baseline": "middle", "clip": false},
      "encoding": {
        "x": {"field": "at", "type": "quantitative", "axis": null},
        "y": {"field": "mid", "type": "quantitative", "axis": null},
        "text": {"field": "label"}
      }
    }
  ]
}
